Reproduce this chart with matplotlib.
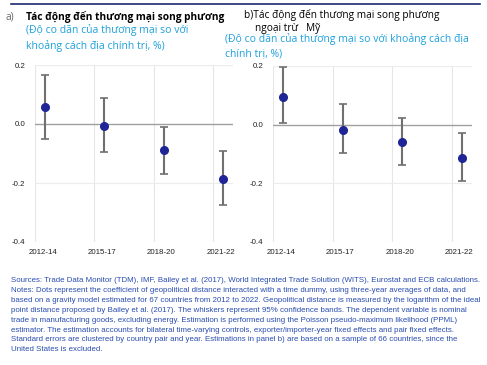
import matplotlib.pyplot as plt

periods = ["2012-14", "2015-17", "2018-20", "2021-22"]

coef_a = [0.058, -0.007, -0.088, -0.185]
upper_a = [0.166, 0.088, -0.010, -0.090]
lower_a = [-0.051, -0.095, -0.169, -0.273]

coef_b = [0.095, -0.017, -0.058, -0.114]
upper_b = [0.196, 0.069, 0.023, -0.029]
lower_b = [0.005, -0.097, -0.136, -0.193]

yticks = [0.2, 0.0, -0.2, -0.4]

note = ("Sources: Trade Data Monitor (TDM), IMF, Bailey et al. (2017), World Integrated Trade Solution (WITS), Eurostat and ECB calculations.\n"
        "Notes: Dots represent the coefficient of geopolitical distance interacted with a time dummy, using three-year averages of data, and\n"
        "based on a gravity model estimated for 67 countries from 2012 to 2022. Geopolitical distance is measured by the logarithm of the ideal\n"
        "point distance proposed by Bailey et al. (2017). The whiskers represent 95% confidence bands. The dependent variable is nominal\n"
        "trade in manufacturing goods, excluding energy. Estimation is performed using the Poisson pseudo-maximum likelihood (PPML)\n"
        "estimator. The estimation accounts for bilateral time-varying controls, exporter/importer-year fixed effects and pair fixed effects.\n"
        "Standard errors are clustered by country pair and year. Estimations in panel b) are based on a sample of 66 countries, since the\n"
        "United States is excluded.")

navy = "#1f2496"
cyan = "#1ea0dc"
note_col = "#2a4db0"

fig = plt.figure(figsize=(4.87, 3.65), dpi=100)
plt.rcParams["font.family"] = ["Liberation Sans", "DejaVu Sans"]


def panel(rect, coef, upper, lower):
    ax = fig.add_axes(rect)
    x = [i + 0.17 for i in range(len(coef))]
    err = [[c - l for c, l in zip(coef, lower)], [u - c for c, u in zip(coef, upper)]]
    ax.errorbar(x, coef, yerr=err, fmt="o", color=navy, ms=5.5,
                ecolor="#707070", elinewidth=1.5, capsize=3, capthick=1.2, zorder=3)
    ax.set_xlim(0, 3.34)
    ax.set_ylim(-0.4, 0.2)
    ax.set_yticks(yticks)
    ax.set_yticklabels(["0.2", "0.0", "-0.2", "-0.4"])
    ax.set_xticks([i + 0.13 for i in range(4)])
    ax.set_xticklabels(periods)
    for i in range(4):
        ax.axvline(i, color="#e6e6e6", lw=0.8, zorder=0)
    for v in [0.2, -0.2, -0.4]:
        ax.axhline(v, color="#ececec", lw=0.8, zorder=0)
    ax.axhline(0, color="#a0a0a0", lw=1.0, zorder=1)
    ax.tick_params(axis="y", length=0, labelsize=5.7, colors="#222222", pad=7)
    ax.tick_params(axis="x", length=0, labelsize=5.7, colors="#222222", pad=5)
    for s in ax.spines.values():
        s.set_visible(False)
    return ax


panel([35 / 487, 1 - 242 / 365, 198 / 487, 177 / 365], coef_a, upper_a, lower_a)
panel([273 / 487, 1 - 242 / 365, 199 / 487, 176 / 365], coef_b, upper_b, lower_b)

# header line
fig.add_artist(plt.Line2D([11 / 487, 480 / 487], [1 - 4 / 365] * 2,
                          color="#1c2a6e", lw=1.2, transform=fig.transFigure))

tf = ["Open Sans", "DejaVu Sans"]
fig.text(5 / 487, 1 - 17 / 365, "a)", fontsize=7.3, color="#666666", va="center", family=tf)
fig.text(26 / 487, 1 - 17 / 365, "Tác động đến thương mại song phương", fontsize=7.3,
         fontweight="bold", color="black", va="center", family=tf)
fig.text(26 / 487, 1 - 38 / 365, "(Độ co dãn của thương mại so với\nkhoảng cách địa chính trị, %)",
         fontsize=7.5, color=cyan, va="center", linespacing=1.45, family=tf)

fig.text(244 / 487, 1 - 15 / 365, "b)Tác động đến thương mại song phương", fontsize=7.3,
         color="black", va="center", family=tf)
fig.text(255 / 487, 1 - 28 / 365, "ngoại trừ   Mỹ", fontsize=7.3,
         color="black", va="center", family=tf)
fig.text(225 / 487, 1 - 46 / 365, "(Độ co dãn của thương mại so với khoảng cách địa\nchính trị, %)",
         fontsize=7.5, color=cyan, va="center", linespacing=1.3, family=tf)

fig.text(11 / 487, 1 - 277 / 365, note, fontsize=5.7, color=note_col, va="top",
         linespacing=1.58)

fig.savefig("out.png", dpi=100)
